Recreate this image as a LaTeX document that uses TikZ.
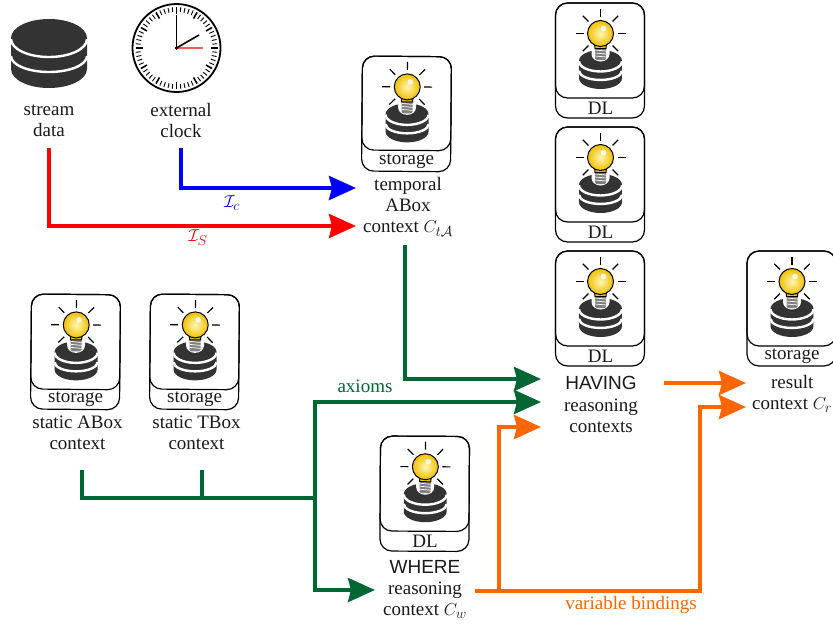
\documentclass[tikz,border=0pt]{standalone}
\usepackage{fontspec}
\setmainfont{Liberation Serif}
\newfontfamily\havingfont{Liberation Sans}
\usetikzlibrary{arrows.meta}
\definecolor{dgreen}{HTML}{006633}
\definecolor{dorange}{HTML}{FF6600}
\definecolor{dbgrey}{HTML}{333333}
\definecolor{bulbout}{HTML}{F0BE00}
\definecolor{bulbin}{HTML}{FFF7B5}
\tikzset{
  x=1pt,y=-1pt,
  lab/.style={align=center,inner sep=0pt,font=\fontsize{19}{21.2}\selectfont,text=black!90},
  conn/.style={line width=3.8pt,line join=miter,-{Stealth[length=27pt,width=24pt,inset=3pt]}},
  plainconn/.style={line width=3.8pt,line join=miter},
  pics/dbstack/.style={code={
    \fill[dbgrey] (-38,19) arc[start angle=180,end angle=360,x radius=38,y radius=19]
      -- (38,50) arc[start angle=0,end angle=180,x radius=38,y radius=19] -- cycle;
    \draw[white,line width=2.4pt] (-38,20) arc[start angle=180,end angle=0,x radius=38,y radius=18];
    \draw[white,line width=2.4pt] (-38,37) arc[start angle=180,end angle=0,x radius=38,y radius=16];
  }},
  pics/ctx/.style n args={3}{code={
    \draw[line width=1.2pt,rounded corners=12pt] (0,0) rectangle (89,#1);
    \draw[line width=1.2pt,rounded corners=12pt] (0,0) rectangle (89,#2);
    \path (45,{(#1+#2)/2}) node[lab] (-lab) {#3};
    \pic[scale=.565] at (45,47) {dbstack};
    \fill[white] (36,40) -- (36,51) arc[start angle=180,end angle=0,x radius=9,y radius=7.5] -- (54,40) -- cycle;
    \foreach \a in {-90,-45,-135,0,180,45,135}{
      \draw[line width=1.2pt] (45,30.5) ++(\a:17) -- ++(\a:8);
    }
    \fill[black!50,rounded corners=1.5pt] (39.5,44) rectangle (50.5,57);
    \foreach \yy in {47,50,53}{\draw[white,line width=.7pt] (39.5,\yy) -- (50.5,\yy+1);}
    \filldraw[line width=1pt,fill=bulbout] (39,40) -- (39.5,45.5) -- (50.5,45.5) -- (51,40) -- cycle;
    \draw[line width=1pt,inner color=bulbin,outer color=bulbout] (45,30.5) circle[radius=13];
    \fill[white,opacity=.85] (48,25.5) circle[radius=2.8];
  }},
}
\begin{document}
\begin{tikzpicture}
\useasboundingbox (0,0) rectangle (833,625);
% stream data icon
\pic at (49,19) {dbstack};
\node[lab] (stream) at (49,120.5) {stream\\data};
% clock
\coordinate (clk) at (176.5,48);
\draw[line width=1.8pt] (clk) circle[radius=44];
\foreach \t in {0,6,...,354}{
  \draw[line width=.9pt] (clk) ++(\t:41) -- ++(\t:-5);
}
\foreach \t in {0,30,...,330}{
  \draw[line width=1.5pt] (clk) ++(\t:41) -- ++(\t:-7);
}
\draw[red!65,line width=1.2pt] (clk) -- (203,48);
\draw[line width=1.8pt] (clk) -- (176.5,15);
\draw[line width=1.6pt] (clk) -- (199,35);
\fill (clk) circle[radius=1.8];
\node[lab] (clock) at (181,120.5) {external\\clock};
% contexts
\pic[rotate=-.5] (ct) at (362.5,56) {ctx={115}{94}{storage}};
\pic (d1) at (555.5,3) {ctx={115}{95}{DL}};
\pic (d2) at (555.5,127) {ctx={115}{95}{DL}};
\pic (d3) at (555.5,251) {ctx={115}{95}{DL}};
\pic (cr) at (747,251) {ctx={115}{95}{storage}};
\pic[rotate=-.5] (ca) at (31.5,294) {ctx={115}{95}{storage}};
\pic[rotate=-.5] (cb) at (150.5,294) {ctx={115}{95}{storage}};
\pic[rotate=-.3] (cw) at (380.5,436) {ctx={115}{95}{DL}};
% labels
\node[lab] (temporal) at (408,207) {temporal\\ABox\\context $C_{t\mathcal{A}}$};
\node[lab] (sabox) at (77.5,432.5) {static ABox\\context};
\node[lab] (stbox) at (196.5,432.5) {static TBox\\context};
\node[lab] (having) at (601,404.5) {{\havingfont HAVING}\\reasoning\\contexts};
\node[lab,anchor=west] (result) at (752,394) {\makebox[80pt][c]{result}\\context $C_r$};
\node[lab] (where) at (425,589.5) {{\havingfont WHERE}\\reasoning\\context $C_w$};
% coordinates
\coordinate (redS) at (49,148);
\coordinate (redC) at (49,226);
\coordinate (redT) at (356,226);
\coordinate (bluS) at (181,148);
\coordinate (bluC) at (181,188);
\coordinate (bluT) at (356,188);
\coordinate (gtS) at (405,245);
\coordinate (gtC) at (405,379);
\coordinate (gtT) at (541,379);
\coordinate (gaS) at (82,470);
\coordinate (gaC) at (82,498);
\coordinate (gbS) at (202,470);
\coordinate (gbC) at (202,498);
\coordinate (gJ) at (315,498);
\coordinate (gUp) at (315,402);
\coordinate (gUT) at (541,402);
\coordinate (gDn) at (315,590);
\coordinate (gDT) at (375,590);
\coordinate (oS) at (475,591);
\coordinate (oB) at (499,591);
\coordinate (oBu) at (499,427);
\coordinate (oBT) at (541,427);
\coordinate (oC) at (700,591);
\coordinate (oCu) at (700,407);
\coordinate (oCT) at (746,407);
\coordinate (hS) at (664,383);
\coordinate (hT) at (746,383);
% connectors
\draw[conn,red] (redS) -- (redC) -- (redT);
\draw[conn,blue] (bluS) -- (bluC) -- (bluT);
\draw[conn,dgreen] (gtS) -- (gtC) -- (gtT);
\draw[plainconn,dgreen] (gaS) -- (gaC) -- (gJ);
\draw[plainconn,dgreen] (gbS) -- (gbC);
\draw[conn,dgreen] (gJ) -- (gUp) -- (gUT);
\draw[conn,dgreen] (gJ) -- (gDn) -- (gDT);
\draw[conn,dorange] (oS) -- (oC) -- (oCu) -- (oCT);
\draw[conn,dorange] (oB) -- (oBu) -- (oBT);
\draw[conn,dorange] (hS) -- (hT);
% connector labels
\node[lab,text=blue] (lc) at (232,203) {$\mathcal{I}_c$};
\node[lab,text=red] (ls) at (198,238) {$\mathcal{I}_S$};
\node[lab,text=dgreen] (lax) at (365,386) {axioms};
\node[lab,text=dorange] (lvb) at (631,605) {variable bindings};
\end{tikzpicture}
\end{document}
